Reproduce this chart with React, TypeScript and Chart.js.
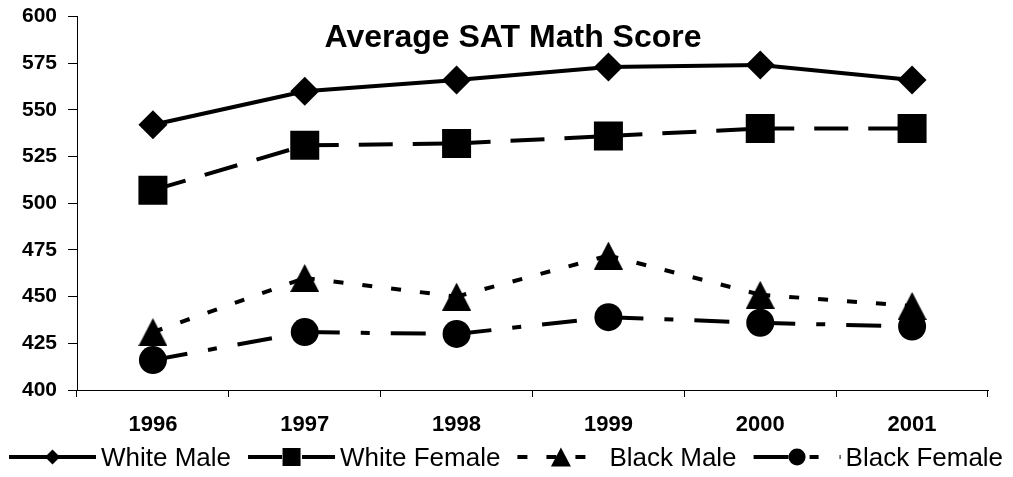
import React, { useEffect, useRef } from 'react';
import { Chart, registerables } from 'chart.js';

Chart.register(...registerables);

const years = ['1996', '1997', '1998', '1999', '2000', '2001'];
const whiteMale = [542, 560, 566, 573, 574, 566];
const whiteFemale = [507, 531, 532, 536, 540, 540];
const blackMale = [431, 460, 450, 472, 451, 445];
const blackFemale = [416, 431, 430, 439, 436, 434];
const seriesNames = ['White Male', 'White Female', 'Black Male', 'Black Female'];
const yMin = 400;
const yMax = 600;
const yStep = 25;
const titleText = 'Average SAT Math Score';

const FONT = '"Liberation Sans", Arial, Helvetica, sans-serif';

type MarkerType = 'diamond' | 'square' | 'triangle' | 'circle';

const dashes: number[][] = [[], [34, 20], [10, 19], [35, 21, 9, 21]];
const markers: MarkerType[] = ['diamond', 'square', 'triangle', 'circle'];

function drawMarker(ctx: CanvasRenderingContext2D, type: MarkerType, x: number, y: number, s: number) {
  ctx.save();
  ctx.fillStyle = '#000';
  ctx.beginPath();
  if (type === 'diamond') {
    const r = s / 2;
    ctx.moveTo(x, y - r);
    ctx.lineTo(x + r, y);
    ctx.lineTo(x, y + r);
    ctx.lineTo(x - r, y);
    ctx.closePath();
  } else if (type === 'square') {
    ctx.rect(x - s / 2, y - s / 2, s, s);
  } else if (type === 'triangle') {
    const h = s * 0.96;
    ctx.moveTo(x, y - h / 2);
    ctx.lineTo(x + s / 2, y + h / 2);
    ctx.lineTo(x - s / 2, y + h / 2);
    ctx.closePath();
  } else {
    ctx.arc(x, y, s / 2, 0, Math.PI * 2);
  }
  ctx.fill();
  ctx.restore();
}

function makeTriangle(w: number, h: number): HTMLCanvasElement {
  const c = document.createElement('canvas');
  c.width = w;
  c.height = h;
  const ctx = c.getContext('2d')!;
  ctx.fillStyle = '#000';
  ctx.beginPath();
  ctx.moveTo(w / 2, 0);
  ctx.lineTo(w, h);
  ctx.lineTo(0, h);
  ctx.closePath();
  ctx.fill();
  return c;
}

const titlePlugin = {
  id: 'customTitle',
  afterDraw(chart: any) {
    const ctx = chart.ctx as CanvasRenderingContext2D;
    ctx.save();
    ctx.font = `bold 32px ${FONT}`;
    ctx.fillStyle = '#000';
    ctx.textAlign = 'center';
    ctx.textBaseline = 'alphabetic';
    ctx.fillText(titleText, 513, 47);
    ctx.restore();
  },
};

const legendPlugin = {
  id: 'customLegend',
  afterDraw(chart: any) {
    const ctx = chart.ctx as CanvasRenderingContext2D;
    const sizes = [15, 18, 20, 17];
    const y = 457;
    const sample = 87;
    let x = 9;
    ctx.save();
    ctx.font = `26px ${FONT}`;
    ctx.fillStyle = '#000';
    ctx.textBaseline = 'alphabetic';
    ctx.textAlign = 'left';
    seriesNames.forEach((name, i) => {
      ctx.save();
      ctx.strokeStyle = '#000';
      ctx.lineWidth = 4;
      ctx.lineCap = 'butt';
      ctx.setLineDash(dashes[i]);
      ctx.beginPath();
      ctx.moveTo(x, y);
      ctx.lineTo(x + sample, y);
      ctx.stroke();
      ctx.restore();
      drawMarker(ctx, markers[i], x + sample / 2, y, sizes[i]);
      ctx.fillText(name, x + sample + 5, 466);
      x += sample + 5 + ctx.measureText(name).width + 17;
    });
    ctx.restore();
  },
};

export default function App() {
  const ref = useRef<HTMLCanvasElement | null>(null);

  useEffect(() => {
    if (!ref.current) return;
    const tri = makeTriangle(29, 28);
    const seg = { borderDashOffset: (c: any) => c.p0DataIndex * 1e-6 };
    const base = {
      borderColor: '#000',
      backgroundColor: '#000',
      pointBackgroundColor: '#000',
      pointBorderColor: '#000',
      pointBorderWidth: 0,
      borderWidth: 4,
      fill: false,
      tension: 0,
      segment: seg,
    };
    const chart = new Chart(ref.current, {
      type: 'line',
      data: {
        labels: years,
        datasets: [
          { ...base, label: seriesNames[0], data: whiteMale, borderDash: dashes[0], pointStyle: 'rectRot', pointRadius: 14.5 },
          { ...base, label: seriesNames[1], data: whiteFemale, borderDash: dashes[1], pointStyle: 'rect', pointRadius: 20.5 },
          { ...base, label: seriesNames[2], data: blackMale, borderDash: dashes[2], pointStyle: tri as any, pointRadius: 14 },
          { ...base, label: seriesNames[3], data: blackFemale, borderDash: dashes[3], pointStyle: 'circle', pointRadius: 14 },
        ] as any,
      },
      options: {
        responsive: false,
        animation: false,
        devicePixelRatio: 1,
        layout: { autoPadding: false, padding: { top: 16.5, right: 25, left: 0, bottom: 0 } },
        plugins: {
          legend: { display: false },
          title: { display: false },
          tooltip: { enabled: false },
        },
        scales: {
          x: {
            offset: true,
            grid: { offset: true, drawOnChartArea: false, drawTicks: true, tickLength: 7, color: '#000', lineWidth: 1 },
            border: { display: true, color: '#000', width: 1 },
            ticks: { color: '#000', font: { family: FONT, size: 22, weight: 'bold' }, padding: 15, maxRotation: 0 },
            afterFit: (s: any) => { s.height = 87; s.paddingLeft = 0; s.paddingRight = 0; },
          },
          y: {
            min: yMin,
            max: yMax,
            grid: { drawOnChartArea: false, drawTicks: true, tickLength: 9, color: '#000', lineWidth: 1 },
            border: { display: true, color: '#000', width: 1 },
            ticks: { stepSize: yStep, color: '#000', font: { family: FONT, size: 21, weight: 'bold' }, padding: 11 },
            afterFit: (s: any) => { s.width = 77; s.paddingTop = 0; s.paddingBottom = 0; },
          },
        },
      } as any,
      plugins: [titlePlugin, legendPlugin],
    });
    return () => chart.destroy();
  }, []);

  return (
    <div style={{ position: 'fixed', left: 0, top: 0, width: 1013, height: 477, background: '#fff' }}>
      <canvas ref={ref} width={1013} height={477} style={{ display: 'block', width: 1013, height: 477 }} />
    </div>
  );
}
